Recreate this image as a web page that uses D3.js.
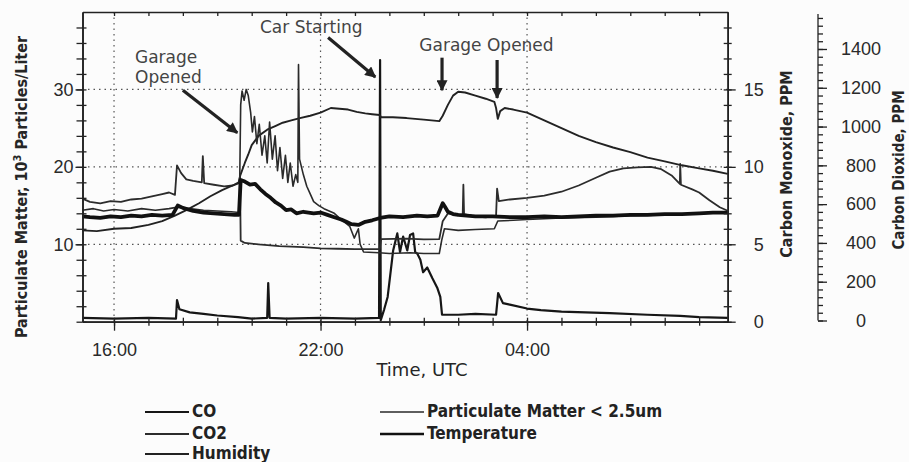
<!DOCTYPE html>
<html>
<head>
<meta charset="utf-8">
<script src="https://cdn.jsdelivr.net/npm/d3@7"></script>
<style>
  body { margin: 0; background: #fcfcfc; }
  svg { display: block; font-family: "DejaVu Sans", Verdana, sans-serif; }
  .axis path, .axis line { stroke: #222; stroke-width: 1.3; }
  .axis text { font-size: 17px; fill: #2a2a2a; }
</style>
</head>
<body>
<svg id="chart" width="909" height="462"></svg>
<script>
// readings taken off the scanned plot, time is clock hour (24 + h = next day)
const co = [[15.08,0.25],[16.0,0.2],[17.0,0.25],[17.8,0.2],[17.83,1.4],[17.9,0.8],[18.2,0.6],[18.6,0.5],
  [19.0,0.4],[19.6,0.3],[20.0,0.2],[20.45,0.25],[20.48,2.5],[20.52,0.25],[21.0,0.2],[22.0,0.25],[23.0,0.2],
  [23.7,0.25],[23.73,16.9],[23.75,0.1],[23.85,0.8],[23.95,1.6],[24.11,4.6],[24.23,5.7],[24.31,4.5],[24.4,5.5],
  [24.52,4.6],[24.6,5.6],[24.69,5.7],[24.75,4.5],[24.81,4.4],[24.9,4.0],[24.98,3.2],[25.1,3.5],[25.25,2.8],
  [25.39,2.2],[25.48,1.6],[25.53,0.45],[26.0,0.45],[26.5,0.5],[27.1,0.45],[27.16,1.85],[27.3,1.2],[27.5,1.1],
  [28.0,0.85],[28.4,0.75],[29.0,0.65],[30.4,0.55],[31.5,0.45],[32.45,0.37],[33.0,0.3],[33.83,0.25]];

const co2 = [[15.08,628],[15.3,612],[15.6,604],[15.9,616],[16.2,612],[16.5,624],[16.8,628],[17.1,640],
  [17.4,652],[17.6,660],[17.77,648],[17.83,800],[17.95,760],[18.1,728],[18.3,720],[18.55,712],[18.58,848],
  [18.62,708],[18.9,700],[19.2,692],[19.45,696],[19.62,712],[19.66,740],[19.68,412],[19.8,400],[20.2,392],
  [20.8,384],[21.5,378],[22.0,372],[22.5,370],[23.0,368],[23.72,368],[23.76,420],[24.5,422],[25.0,418],
  [25.45,420],[25.55,512],[25.7,552],[25.9,548],[26.13,540],[26.15,700],[26.17,548],[26.5,536],[26.8,532],
  [27.1,540],[27.13,680],[27.18,616],[27.5,624],[28.0,632],[28.5,644],[29.0,664],[29.5,696],[30.0,736],
  [30.4,768],[30.8,784],[31.2,790],[31.6,792],[31.9,780],[32.2,748],[32.44,704],[32.45,808],[32.47,700],
  [32.8,676],[33.0,660],[33.3,620],[33.6,584],[33.83,566]];

const humidity = [[15.08,11.8],[15.5,11.7],[16.0,12.0],[16.5,12.1],[17.0,12.5],[17.4,13.0],[17.77,13.7],
  [18.1,14.4],[18.47,15.3],[18.8,16.2],[19.14,17.0],[19.4,17.5],[19.63,17.9],[19.66,18.8],[19.8,20.5],
  [19.9,21.6],[20.0,22.8],[20.2,24.0],[20.45,24.8],[20.7,25.3],[20.9,25.7],[21.15,26.0],[21.4,26.3],
  [21.7,26.6],[22.0,27.0],[22.3,27.6],[22.55,27.5],[22.8,27.4],[23.05,27.1],[23.3,26.9],[23.5,26.8],
  [23.72,26.7],[23.76,26.4],[24.1,26.4],[24.5,26.3],[25.0,26.1],[25.45,25.9],[25.55,26.6],[25.7,28.0],
  [25.85,29.2],[26.0,29.7],[26.2,29.6],[26.5,29.2],[26.8,28.8],[27.05,28.4],[27.1,27.6],[27.15,26.2],
  [27.22,27.2],[27.35,27.6],[27.6,27.4],[28.0,27.0],[28.5,26.0],[29.0,25.0],[29.5,24.0],[30.0,23.2],
  [30.5,22.5],[31.0,21.9],[31.5,21.2],[32.0,20.7],[32.5,20.2],[33.0,19.8],[33.4,19.5],[33.83,19.1]];

const pm25 = [[15.08,14.4],[15.4,14.6],[15.7,14.3],[16.0,14.5],[16.4,14.3],[16.8,14.6],[17.2,14.4],[17.6,14.6],
  [17.85,14.8],[18.2,14.6],[18.6,14.4],[19.0,14.3],[19.4,14.2],[19.64,14.1],[19.68,28.0],[19.72,29.8],
  [19.78,28.6],[19.84,30.0],[19.9,29.2],[19.97,27.0],[20.02,24.5],[20.08,26.5],[20.15,23.0],[20.22,25.5],
  [20.3,21.5],[20.38,24.0],[20.45,20.5],[20.52,25.8],[20.6,21.0],[20.68,24.0],[20.75,19.5],[20.82,22.5],
  [20.9,18.5],[20.98,21.5],[21.05,18.0],[21.12,20.5],[21.2,17.5],[21.28,19.0],[21.34,18.0],[21.36,33.2],
  [21.39,21.0],[21.5,19.0],[21.6,17.5],[21.7,16.5],[21.8,15.5],[21.95,15.0],[22.1,14.6],[22.4,14.0],
  [22.6,13.2],[22.85,12.3],[22.98,10.8],[23.1,12.0],[23.15,10.0],[23.25,9.0],[23.7,8.9],[24.0,8.8],
  [24.6,8.9],[25.0,8.8],[25.45,8.8],[25.52,10.5],[25.6,12.0],[26.0,11.8],[26.5,11.9],[27.05,12.0],
  [27.15,13.0],[27.6,13.1],[28.0,13.2],[29.0,13.4],[30.0,13.5],[31.0,13.7],[32.0,13.8],[33.0,14.0],[33.83,14.1]];

const temperature = [[15.08,13.6],[15.3,13.5],[15.6,13.4],[15.9,13.6],[16.2,13.5],[16.5,13.7],[16.8,13.6],
  [17.1,13.8],[17.4,13.7],[17.7,13.8],[17.85,15.0],[18.0,14.7],[18.3,14.3],[18.6,14.1],[18.9,14.0],
  [19.2,13.9],[19.5,13.8],[19.63,13.8],[19.68,18.3],[19.8,18.1],[19.95,17.7],[20.1,17.8],[20.25,17.1],
  [20.4,16.5],[20.55,16.0],[20.7,15.4],[20.85,15.0],[21.0,14.4],[21.15,14.5],[21.3,14.0],[21.5,14.2],
  [21.8,14.0],[22.0,14.1],[22.2,13.8],[22.4,13.5],[22.6,13.2],[22.75,12.9],[22.9,12.6],[23.1,12.5],
  [23.3,12.9],[23.5,13.1],[23.73,13.4],[24.0,13.6],[24.4,13.5],[24.8,13.7],[25.1,13.6],[25.4,13.7],
  [25.55,15.3],[25.62,14.8],[25.7,14.2],[25.85,13.9],[26.0,13.8],[26.5,13.6],[27.0,13.6],[27.5,13.5],
  [28.0,13.5],[28.5,13.6],[29.0,13.5],[29.5,13.6],[30.0,13.7],[30.5,13.7],[31.0,13.8],[31.5,13.8],
  [32.0,13.9],[32.5,13.9],[33.0,14.0],[33.4,14.1],[33.83,14.1]];

const timeTicks = [16, 22, 28];
const timeLabels = ["16:00", "22:00", "04:00"];
const pmTicks = [10, 20, 30];
const coTicks = [0, 5, 10, 15];
const co2Ticks = [0, 200, 400, 600, 800, 1000, 1200, 1400];

const legendNames = ["CO", "CO2", "Humidity", "Particulate Matter < 2.5um", "Temperature"];

const svg = d3.select("#chart");

const x = d3.scaleLinear().domain([15.084, 33.83]).range([82.5, 727.7]);
const yPM = d3.scaleLinear().domain([0, 40]).range([321.7, 12]);
const yCO = d3.scaleLinear().domain([0, 20]).range([321.7, 12]);
const yCO2 = d3.scaleLinear().domain([0, 1600]).range([320.5, 10.2]);

const [x0, x1] = x.range();
const [yb, yt] = yPM.range();

// dotted grid
const grid = svg.append("g").attr("stroke", "#555").attr("stroke-width", 1.2).attr("stroke-dasharray", "1.5,4");
grid.selectAll(".gh").data(pmTicks).join("line")
  .attr("x1", x0).attr("x2", x1).attr("y1", d => yPM(d)).attr("y2", d => yPM(d));
grid.selectAll(".gv").data(timeTicks).join("line")
  .attr("x1", d => x(d)).attr("x2", d => x(d)).attr("y1", yt).attr("y2", yb);

// series
const series = [
  {name: "CO", data: co, y: yCO, color: "#161616", width: 2.2},
  {name: "CO2", data: co2, y: yCO2, color: "#2c2c2c", width: 1.8},
  {name: "Humidity", data: humidity, y: yPM, color: "#222", width: 1.9},
  {name: "Particulate Matter < 2.5um", data: pm25, y: yPM, color: "#2a2a2a", width: 1.6},
  {name: "Temperature", data: temperature, y: yPM, color: "#111", width: 3.8}
];

series.forEach(s => {
  const line = d3.line().x(d => x(d[0])).y(d => s.y(d[1]));
  svg.append("path")
    .datum(s.data)
    .attr("fill", "none")
    .attr("stroke", s.color)
    .attr("stroke-width", s.width)
    .attr("stroke-linejoin", "round")
    .attr("d", line);
});

// frame and axes
const hourly = d3.range(16, 34);
const noText = () => "";

svg.append("g").attr("class", "axis").attr("transform", `translate(0,${yt})`)
  .call(d3.axisTop(x).tickValues(hourly).tickSize(-4).tickSizeOuter(0).tickFormat(noText));

svg.append("g").attr("class", "axis").attr("transform", `translate(0,${yb})`)
  .call(d3.axisTop(x).tickValues(hourly).tickSize(4).tickSizeOuter(0).tickFormat(noText));
svg.append("g").attr("class", "axis").attr("transform", `translate(0,${yb})`)
  .call(d3.axisBottom(x).tickValues(hourly).tickSize(4).tickSizeOuter(0).tickFormat(noText));
svg.append("g").attr("class", "axis").attr("transform", `translate(0,${yb})`)
  .call(d3.axisBottom(x).tickValues(timeTicks).tickSize(9).tickSizeOuter(0).tickPadding(13)
    .tickFormat((d, i) => timeLabels[i]))
  .call(g => g.selectAll("text").style("font-size", "18px"));

const pmMinor = d3.range(0, 40, 2);
svg.append("g").attr("class", "axis").attr("transform", `translate(${x0},0)`)
  .call(d3.axisRight(yPM).tickValues(pmMinor).tickSize(4).tickSizeOuter(0).tickFormat(noText));
svg.append("g").attr("class", "axis").attr("transform", `translate(${x0},0)`)
  .call(d3.axisLeft(yPM).tickValues(pmMinor).tickSize(6).tickSizeOuter(0).tickFormat(noText));
svg.append("g").attr("class", "axis").attr("transform", `translate(${x0},0)`)
  .call(d3.axisLeft(yPM).tickValues(pmTicks).tickSize(7).tickSizeOuter(0).tickPadding(2))
  .call(g => g.selectAll("text").style("font-size", "18px"));

const coMinor = d3.range(0, 20, 1);
svg.append("g").attr("class", "axis").attr("transform", `translate(${x1},0)`)
  .call(d3.axisLeft(yCO).tickValues(coMinor).tickSize(4).tickSizeOuter(0).tickFormat(noText));
svg.append("g").attr("class", "axis").attr("transform", `translate(${x1},0)`)
  .call(d3.axisRight(yCO).tickValues(coMinor).tickSize(4).tickSizeOuter(0).tickFormat(noText));
svg.append("g").attr("class", "axis").attr("transform", `translate(${x1},0)`)
  .call(d3.axisRight(yCO).tickValues(coTicks).tickSize(8).tickSizeOuter(0))
  .call(g => g.selectAll("text").attr("text-anchor", "end").attr("x", 36).style("font-size", "18px"));

const co2Axis = 818;
svg.append("g").attr("class", "axis").attr("transform", `translate(${co2Axis},0)`)
  .call(d3.axisRight(yCO2).tickValues(d3.range(0, 1600, 40)).tickSize(5).tickSizeOuter(0).tickFormat(noText))
  .call(g => g.select(".domain").attr("d", `M0,${yCO2(1580)}V${yCO2(0)}`));
svg.append("g").attr("class", "axis").attr("transform", `translate(${co2Axis},0)`)
  .call(d3.axisRight(yCO2).tickValues(co2Ticks).tickSize(9).tickSizeOuter(0).tickFormat(d3.format("d")))
  .call(g => g.select(".domain").remove())
  .call(g => g.selectAll("text").attr("text-anchor", "middle").attr("x", 43).style("font-size", "18px"));

// axis titles
const title = svg.append("g").attr("fill", "#262626")
  .style("font-family", '"DejaVu Sans Condensed", "DejaVu Sans", sans-serif')
  .style("font-stretch", "condensed").style("font-weight", "bold");

const pmTitle = title.append("text")
  .attr("transform", "translate(27,187) rotate(-90)")
  .attr("text-anchor", "middle").style("font-size", "16px");
pmTitle.append("tspan").text("Particulate Matter, 10");
pmTitle.append("tspan").attr("dy", -6).style("font-size", "11px").text("3");
pmTitle.append("tspan").attr("dy", 6).text(" Particles/Liter");

title.append("text")
  .attr("transform", "translate(792,164) rotate(-90)")
  .attr("text-anchor", "middle").style("font-size", "16px")
  .text("Carbon Monoxide, PPM");
title.append("text")
  .attr("transform", "translate(904,170) rotate(-90)")
  .attr("text-anchor", "middle").style("font-size", "15px")
  .text("Carbon Dioxide, PPM");

svg.append("text")
  .attr("x", 422).attr("y", 376)
  .attr("text-anchor", "middle")
  .attr("fill", "#262626")
  .style("font-size", "18px")
  .text("Time, UTC");

// annotations
const notes = [
  {lines: ["Garage", "Opened"], hour: 16.61, v: [33.4, 30.8]},
  {lines: ["Car Starting"], hour: 20.24, v: [37.3]},
  {lines: ["Garage Opened"], hour: 24.87, v: [34.9]}
];
const arrows = [
  {from: [18.0, 29.9], to: [19.58, 24.4]},
  {from: [22.22, 36.7], to: [23.59, 31.6]},
  {from: [25.53, 34.1], to: [25.53, 29.9]},
  {from: [27.13, 33.8], to: [27.13, 28.9]}
];

svg.append("defs").append("marker")
  .attr("id", "head")
  .attr("markerUnits", "userSpaceOnUse")
  .attr("viewBox", "0 0 10 10")
  .attr("refX", 9).attr("refY", 5)
  .attr("markerWidth", 12).attr("markerHeight", 11)
  .attr("orient", "auto")
  .append("path").attr("d", "M0,0L10,5L0,10Z").attr("fill", "#222");

notes.forEach(n => {
  n.lines.forEach((t, i) => {
    svg.append("text")
      .attr("x", x(n.hour)).attr("y", yPM(n.v[i]))
      .attr("fill", "#444")
      .style("font-size", "17px")
      .text(t);
  });
});

svg.selectAll(".arrow").data(arrows).join("line")
  .attr("x1", d => x(d.from[0])).attr("y1", d => yPM(d.from[1]))
  .attr("x2", d => x(d.to[0])).attr("y2", d => yPM(d.to[1]))
  .attr("stroke", "#222").attr("stroke-width", 3.2)
  .attr("marker-end", "url(#head)");

// legend
const legendPos = [[145, 417], [145, 439], [145, 459], [380, 417], [380, 439]];
const legend = svg.append("g")
  .style("font-family", '"DejaVu Sans Condensed", "DejaVu Sans", sans-serif')
  .style("font-stretch", "condensed").style("font-weight", "bold")
  .style("font-size", "17px");

series.forEach((s, i) => {
  const [lx, ly] = legendPos[i];
  legend.append("line")
    .attr("x1", lx).attr("x2", lx + 44)
    .attr("y1", ly - 5).attr("y2", ly - 5)
    .attr("stroke", s.color)
    .attr("stroke-width", Math.min(s.width, 2.6));
  legend.append("text")
    .attr("x", lx + 47).attr("y", ly)
    .attr("fill", "#222")
    .text(legendNames[i]);
});
</script>
</body>
</html>
